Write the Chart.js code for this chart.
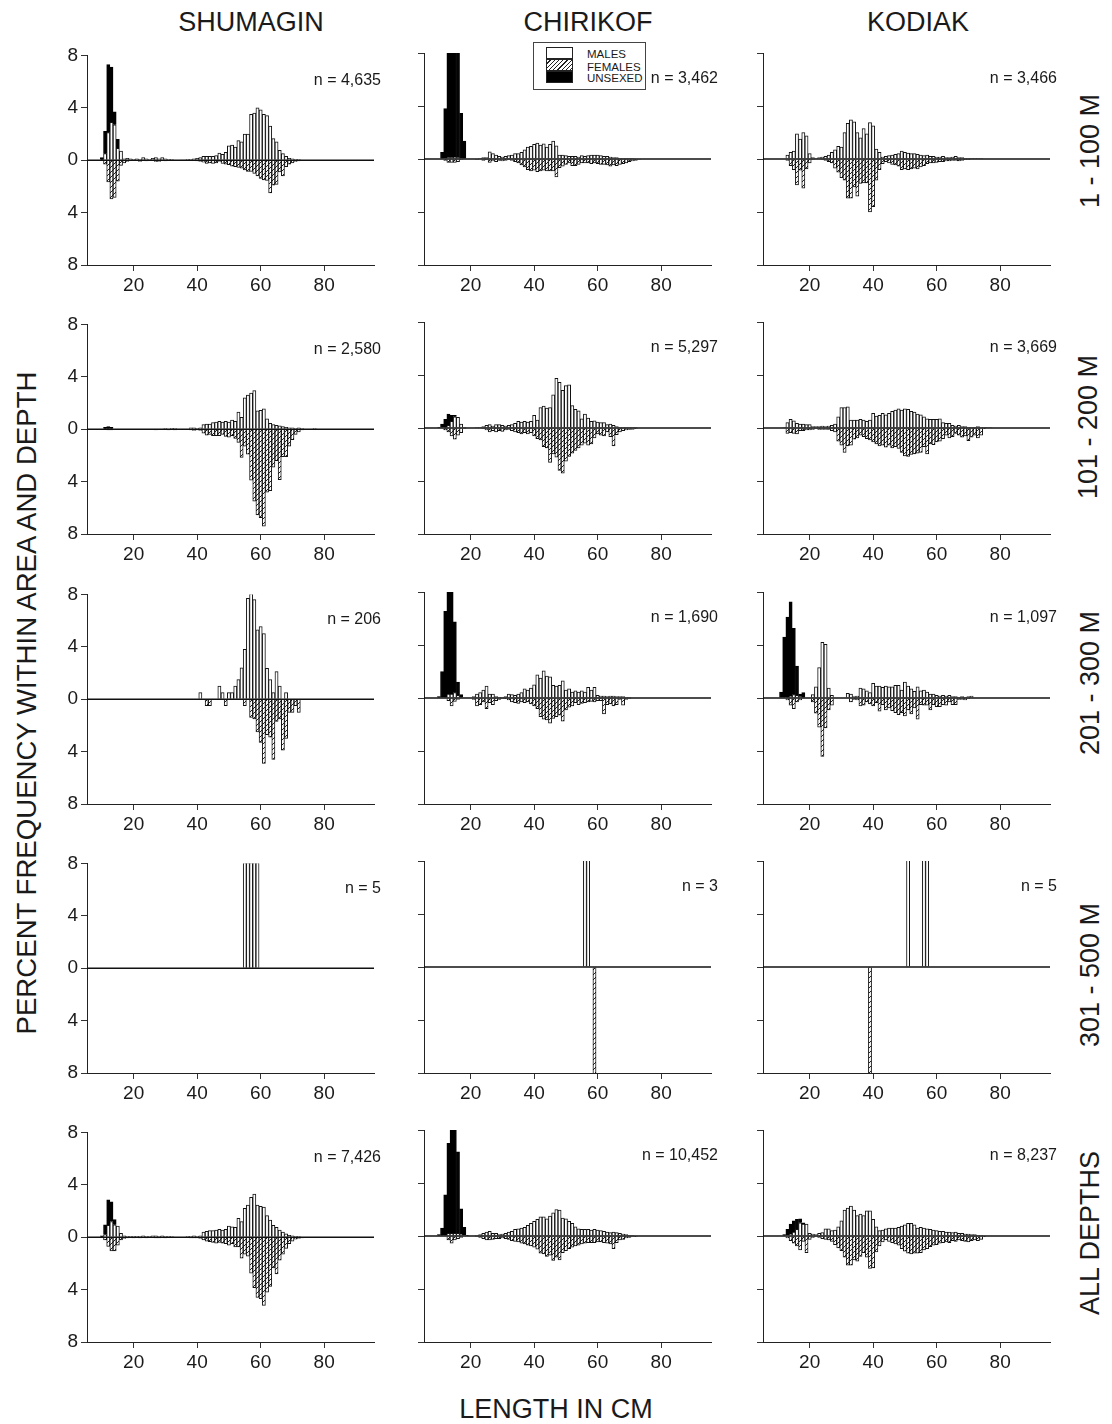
<!DOCTYPE html>
<html>
<head>
<meta charset="utf-8">
<title>Length frequency by area and depth</title>
<script src="https://cdn.jsdelivr.net/npm/chart.js@4.4.1/dist/chart.umd.min.js"></script>
<style>
  body { margin: 0; background: #fff; width: 1112px; height: 1424px; position: relative; overflow: hidden;
         font-family: "Liberation Sans", Arial, sans-serif; color: #1a1a1a; }
  canvas { position: absolute; }
  .big { position: absolute; white-space: nowrap; font-size: 27px; line-height: 27px; }
  .rot { transform: translate(-50%, -50%) rotate(-90deg); }
  .legend { position: absolute; left: 533px; top: 42px; width: 111px; height: 46px; border: 1px solid #444; background: #fff; }
  .legend .sw { position: absolute; left: 12px; width: 25px; height: 10px; border: 1px solid #222; }
  .legend .tx { position: absolute; left: 53px; font-size: 11.5px; line-height: 12px; white-space: nowrap; }
</style>
</head>
<body>

<div class="big" style="left:251px;top:9px;transform:translateX(-50%)">SHUMAGIN</div>
<div class="big" style="left:588px;top:9px;transform:translateX(-50%)">CHIRIKOF</div>
<div class="big" style="left:918px;top:9px;transform:translateX(-50%)">KODIAK</div>

<div class="big rot" style="left:1090px;top:151px">1 - 100 M</div>
<div class="big rot" style="left:1088px;top:427px">101 - 200 M</div>
<div class="big rot" style="left:1090px;top:683px">201 - 300 M</div>
<div class="big rot" style="left:1090px;top:975px">301 - 500 M</div>
<div class="big rot" style="left:1090px;top:1233px">ALL DEPTHS</div>

<div class="big rot" style="left:26px;top:703px;font-size:27.6px">PERCENT FREQUENCY WITHIN AREA AND DEPTH</div>
<div class="big" style="left:556px;top:1396px;transform:translateX(-50%)">LENGTH IN CM</div>

<div class="legend">
  <div class="sw" style="top:4px;background:#fff"></div>
  <div class="sw" style="top:16px;background:repeating-linear-gradient(135deg,#fff 0 2px,#222 2px 3px)"></div>
  <div class="sw" style="top:28px;background:#000"></div>
  <div class="tx" style="top:5px">MALES</div>
  <div class="tx" style="top:18px">FEMALES</div>
  <div class="tx" style="top:29px">UNSEXED</div>
</div>

<script>
// every series starts at this length (cm), one value per cm
const LENGTH_START = 10;
const xTicks = [20, 40, 60, 80];
const yTicks = [-8, -4, 0, 4, 8];

const sampleSizes = [
  ["n = 4,635", "n = 3,462", "n = 3,466"],
  ["n = 2,580", "n = 5,297", "n = 3,669"],
  ["n = 206", "n = 1,690", "n = 1,097"],
  ["n = 5", "n = 3", "n = 5"],
  ["n = 7,426", "n = 10,452", "n = 8,237"],
];

// ---- 1 - 100 M ----
const shumagin1Males = [
  0, 0.5, 2.1, 2.9, 2.7, 0.9, 0.7, 0.1, 0.15, 0.1,
  0.05, 0.1, 0.05, 0.2, 0.1, 0.05, 0.15, 0.2, 0.1, 0.2,
  0.1, 0.05, 0.05, 0, 0, 0.02, 0.02, 0.05, 0.05, 0.1,
  0.15, 0.2, 0.3, 0.3, 0.3, 0.3, 0.35, 0.55, 0.45, 0.6,
  1.1, 1.15, 1.0, 1.5, 1.4, 2.0, 2.0, 3.5, 3.6, 4.0,
  3.85, 3.5, 3.4, 2.6, 1.65, 1.4, 0.75, 0.5, 0.3, 0.15,
  0.1, 0.05, 0.05];
const shumagin1Females = [
  0, 0.3, 1.65, 2.95, 2.85, 1.6, 0.4, 0.2, 0.1, 0,
  0, 0, 0.1, 0, 0.05, 0, 0, 0.1, 0.1, 0,
  0.05, 0, 0, 0, 0, 0, 0, 0, 0, 0.02,
  0.05, 0.1, 0.15, 0.25, 0.2, 0.25, 0.2, 0.1, 0.25, 0.3,
  0.35, 0.45, 0.5, 0.55, 0.6, 0.75, 0.85, 0.85, 1.0, 1.2,
  1.4, 1.5, 1.55, 2.5, 1.9, 1.85, 0.9, 1.2, 0.5, 0.3,
  0.2, 0.1, 0.05];
const shumagin1Unsexed = [0.2, 1.7, 5.2, 4.2, 1.0, 0.7];

const chirikof1Males = [
  0, 0, 0.05, 0.1, 0.1, 0.15, 0.1, 0.05, 0, 0,
  0, 0, 0, 0.05, 0.1, 0.1, 0.55, 0.4, 0.3, 0.2,
  0.15, 0.2, 0.25, 0.3, 0.4, 0.4, 0.5, 0.7, 0.9, 0.95,
  1.1, 1.2, 1.05, 1.15, 0.9, 1.1, 1.35, 1.0, 0.3, 0.3,
  0.25, 0.2, 0.2, 0.2, 0.15, 0.25, 0.2, 0.25, 0.3, 0.3,
  0.3, 0.25, 0.2, 0.2, 0.15, 0.1, 0.1, 0.05, 0.05, 0.05,
  0.05, 0.05];
const chirikof1Females = [
  0, 0, 0.1, 0.25, 0.25, 0.25, 0.2, 0.05, 0, 0,
  0, 0, 0.05, 0, 0.1, 0.05, 0.25, 0.15, 0.2, 0.1,
  0.15, 0.1, 0.05, 0.1, 0.2, 0.3, 0.45, 0.6, 0.8, 0.9,
  0.85, 0.95, 0.9, 0.85, 0.9, 0.9, 0.9, 1.35, 0.65, 0.55,
  0.4, 0.3, 0.5, 0.5, 0.4, 0.3, 0.3, 0.3, 0.35, 0.3,
  0.35, 0.4, 0.4, 0.45, 0.55, 0.45, 0.5, 0.4, 0.35, 0.3,
  0.2, 0.15, 0.1, 0.05];
const chirikof1Unsexed = [0, 0.5, 3.75, 9.5, 12.5, 11, 8.6, 3.4, 1.35];

const kodiak1Males = [
  0, 0, 0, 0.3, 0.5, 0.6, 1.9, 1.5, 2.0, 1.75,
  0.4, 0.1, 0.05, 0.1, 0.15, 0.2, 0.3, 0.5, 0.7, 0.95,
  0.9, 2.0, 2.7, 2.95, 2.8, 2.0, 1.6, 2.3, 1.9, 2.75,
  2.5, 0.75, 0.5, 0.15, 0.2, 0.25, 0.3, 0.35, 0.4, 0.6,
  0.5, 0.45, 0.4, 0.4, 0.35, 0.3, 0.25, 0.3, 0.2, 0.2,
  0.15, 0.15, 0.2, 0.1, 0.1, 0.15, 0.2, 0.1, 0.1, 0.05,
  0.05, 0.05, 0.05, 0.05, 0.05];
const kodiak1Females = [
  0, 0, 0, 0.1, 0.5, 0.8, 1.95, 0.85, 2.2, 0.75,
  0.3, 0.05, 0, 0, 0.05, 0.1, 0.2, 0.3, 0.7, 1.0,
  1.4, 1.6, 2.95, 2.95, 2.1, 2.8, 1.85, 1.8, 1.8, 4.0,
  3.6, 1.6, 0.8, 0.35, 0.2, 0.3, 0.4, 0.45, 0.55, 0.8,
  0.75, 0.8, 0.75, 0.7, 0.75, 0.6, 0.5, 0.35, 0.3, 0.3,
  0.25, 0.2, 0.2, 0.15, 0.15, 0.1, 0.1, 0.15, 0.1, 0.05,
  0.05];
const kodiak1Unsexed = [];

// ---- 101 - 200 M ----
const shumagin2Males = [
  0, 0, 0, 0, 0, 0, 0, 0, 0, 0,
  0, 0, 0, 0, 0, 0, 0, 0, 0, 0,
  0.05, 0, 0.05, 0.05, 0, 0, 0, 0, 0.1, 0.1,
  0.05, 0.1, 0.35, 0.4, 0.4, 0.5, 0.55, 0.6, 0.55, 0.6,
  0.55, 0.7, 0.6, 1.3, 0.9, 2.4, 2.6, 2.75, 2.95, 1.4,
  1.45, 1.55, 0.8, 0.45, 0.35, 0.3, 0.25, 0.2, 0.15, 0.1,
  0.1, 0.05, 0.1, 0.05, 0, 0, 0, 0.05];
const shumagin2Females = [
  0, 0, 0.05, 0.05, 0, 0, 0, 0, 0, 0,
  0, 0, 0, 0, 0, 0, 0, 0.05, 0, 0,
  0, 0.05, 0, 0.05, 0, 0, 0, 0, 0.05, 0.1,
  0.05, 0.1, 0.3, 0.45, 0.4, 0.5, 0.5, 0.5, 0.4, 0.55,
  0.6, 0.5, 0.7, 1.0, 2.15, 1.3, 1.9, 3.9, 5.5, 6.55,
  6.75, 7.4, 4.8, 4.7, 2.9, 2.4, 3.85, 2.1, 2.1, 1.3,
  0.8, 0.4, 0.2, 0.05];
const shumagin2Unsexed = [0, 0.15, 0.2, 0.15];

const chirikof2Males = [
  0, 0, 0, 0.2, 0.5, 0.85, 0.8, 0.3, 0.05, 0,
  0, 0, 0.05, 0.05, 0.1, 0.2, 0.25, 0.15, 0.25, 0.25,
  0.2, 0.15, 0.2, 0.25, 0.35, 0.5, 0.45, 0.5, 0.45, 0.5,
  0.95, 0.6, 1.55, 1.65, 1.5, 1.55, 2.5, 3.75, 3.45, 2.85,
  3.2, 3.25, 1.7, 1.4, 1.3, 0.7, 1.05, 0.75, 0.5, 0.55,
  0.45, 0.4, 0.4, 0.25, 0.3, 0.2, 0.1, 0.05, 0.05, 0.05,
  0.05, 0.05, 0.05];
const chirikof2Females = [
  0, 0, 0.15, 0.3, 0.6, 0.85, 0.55, 0.35, 0.05, 0,
  0, 0, 0, 0, 0.05, 0.15, 0.3, 0.2, 0.3, 0.2,
  0.25, 0.15, 0.1, 0.2, 0.3, 0.35, 0.45, 0.35, 0.45, 0.35,
  0.6, 0.8, 0.9, 1.4, 1.5, 2.6, 1.95, 2.2, 3.2, 3.4,
  2.5, 2.15, 1.9, 1.7, 1.5, 1.3, 1.15, 1.3, 1.2, 0.75,
  0.45, 0.55, 0.6, 0.3, 0.65, 1.35, 0.5, 0.3, 0.2, 0.15,
  0.1, 0.1, 0.05];
const chirikof2Unsexed = [0.05, 0.3, 0.65, 0.85, 0.45, 0.1];

const kodiak2Males = [
  0, 0, 0.05, 0.4, 0.65, 0.55, 0.35, 0.3, 0.3, 0.25,
  0.25, 0.1, 0.1, 0.1, 0.15, 0.1, 0.15, 0.2, 0.3, 0.85,
  1.55, 1.55, 1.6, 0.6, 0.6, 0.6, 0.65, 0.6, 0.5, 0.6,
  1.1, 0.9, 0.95, 1.1, 1.0, 1.1, 1.25, 1.35, 1.45, 1.35,
  1.45, 1.4, 1.25, 1.2, 1.05, 1.0, 0.85, 0.7, 0.65, 0.65,
  0.65, 0.7, 0.4, 0.35, 0.35, 0.2, 0.15, 0.2, 0.1, 0.1,
  0.05, 0.05, 0.05, 0.1, 0.05, 0.05, 0.05, 0.05];
const kodiak2Females = [
  0, 0, 0, 0.4, 0.35, 0.4, 0.45, 0.2, 0.2, 0.15,
  0.15, 0.1, 0.05, 0.1, 0.1, 0.1, 0.1, 0.2, 0.3, 1.0,
  1.3, 1.85, 1.35, 1.3, 0.85, 0.75, 0.55, 0.65, 0.8, 0.9,
  1.05, 1.2, 1.35, 1.3, 1.45, 1.3, 1.5, 1.4, 1.55, 1.85,
  2.1, 2.15, 2.0, 1.95, 1.9, 1.85, 1.4, 1.95, 1.2, 1.25,
  1.05, 1.0, 0.8, 0.55, 0.75, 0.65, 0.4, 0.55, 0.7, 0.6,
  0.95, 0.7, 0.55, 0.75, 0.55, 0.05];
const kodiak2Unsexed = [];

// ---- 201 - 300 M ----
const shumagin3Males = [
  0, 0, 0, 0, 0, 0, 0, 0, 0, 0,
  0, 0, 0, 0, 0, 0, 0, 0, 0, 0,
  0, 0, 0, 0, 0, 0, 0, 0, 0, 0,
  0, 0.5, 0, 0, 0, 0, 0, 1.0, 0.5, 0,
  0.5, 0.5, 1.0, 1.5, 2.4, 3.8, 7.7, 8.25, 7.6, 5.3,
  5.55, 5.0, 2.35, 1.5, 0.5, 2.1, 1.0, 0, 0.5];
const shumagin3Females = [
  0, 0, 0, 0, 0, 0, 0, 0, 0, 0,
  0, 0, 0, 0, 0, 0, 0, 0, 0, 0,
  0, 0, 0, 0, 0, 0, 0, 0, 0, 0,
  0, 0, 0, 0.5, 0.5, 0, 0, 0, 0, 0.5,
  0, 0, 0, 0, 0, 0.5, 0, 1.4, 1.5, 2.5,
  3.3, 4.9, 2.7, 2.9, 4.6, 1.7, 1.5, 3.9, 3.0, 1.0,
  1.0, 0.5, 1.0];
const shumagin3Unsexed = [];

const chirikof3Males = [
  0, 0, 0, 0.3, 0.3, 0.4, 0.2, 0, 0, 0,
  0, 0.1, 0.3, 0.4, 0.6, 0.9, 0.3, 0.3, 0.1, 0.05,
  0.05, 0.1, 0.3, 0.25, 0.2, 0.3, 0.4, 0.7, 0.6, 0.75,
  1.0, 1.75, 1.5, 2.05, 1.65, 1.6, 0.95, 0.9, 0.95, 1.3,
  0.6, 0.7, 0.45, 0.55, 0.45, 0.55, 0.45, 0.8, 0.6, 0.8,
  0.2, 0.15, 0.15, 0.1, 0.15, 0.15, 0.1, 0.1, 0.1, 0.05,
  0.05];
const chirikof3Females = [
  0, 0, 0, 0.2, 0.6, 0.25, 0.1, 0, 0, 0,
  0, 0.1, 0.6, 0.5, 0.3, 0.8, 0.35, 0.5, 0.2, 0.1,
  0.05, 0.05, 0.15, 0.3, 0.35, 0.4, 0.3, 0.35, 0.3, 0.45,
  0.6, 0.8, 1.4, 1.6, 1.65, 1.9, 1.55, 1.4, 1.3, 1.75,
  0.9, 0.7, 0.6, 0.35, 0.5, 0.4, 0.35, 0.3, 0.25, 0.3,
  0.2, 0.2, 1.2, 0.5, 0.45, 0.6, 0.5, 0.1, 0.55, 0.1,
  0.05];
const chirikof3Unsexed = [0.1, 2.0, 6.55, 8.6, 9.2, 5.35, 1.0, 0.25];

const kodiak3Males = [
  0, 0, 0, 0, 0.15, 0.25, 0.2, 0.1, 0, 0,
  0, 0.25, 0.85, 2.3, 4.2, 4.05, 0.75, 0.2, 0, 0,
  0, 0, 0.35, 0.3, 0.1, 0.15, 0.75, 0.7, 0.55, 0.4,
  1.1, 0.9, 0.9, 0.8, 0.9, 0.85, 0.85, 0.95, 0.95, 0.6,
  1.2, 0.9, 0.7, 0.5, 0.85, 0.55, 0.6, 0.45, 0.3, 0.3,
  0.2, 0.15, 0.2, 0.15, 0.2, 0.1, 0.1, 0.05, 0.1, 0.05,
  0.1, 0.15];
const kodiak3Females = [
  0, 0, 0, 0.15, 0.55, 0.8, 0.3, 0.15, 0, 0,
  0, 0.3, 1.15, 2.2, 4.4, 2.25, 0.9, 0.55, 0, 0,
  0, 0, 0, 0.3, 0.1, 0.15, 0.6, 0.55, 0.3, 0.45,
  0.6, 0.35, 1.0, 0.5, 0.9, 0.75, 0.95, 1.1, 1.25, 1.1,
  1.35, 0.9, 1.2, 0.75, 1.6, 0.5, 0.55, 0.55, 0.9, 0.5,
  0.65, 0.65, 0.5, 0.55, 0.3, 0.5, 0.5, 0.1, 0.1, 0.15,
  0.05];
const kodiak3Unsexed = [0, 0.45, 4.6, 6.1, 7.1, 5.0, 2.2, 0.2, 0.4];

// ---- 301 - 500 M ----
const shumagin4Males = [
  0, 0, 0, 0, 0, 0, 0, 0, 0, 0,
  0, 0, 0, 0, 0, 0, 0, 0, 0, 0,
  0, 0, 0, 0, 0, 0, 0, 0, 0, 0,
  0, 0, 0, 0, 0, 0, 0, 0, 0, 0,
  0, 0, 0, 0, 0, 20, 20, 20, 20, 20];
const shumagin4Females = [];
const shumagin4Unsexed = [];

const chirikof4Males = [
  0, 0, 0, 0, 0, 0, 0, 0, 0, 0,
  0, 0, 0, 0, 0, 0, 0, 0, 0, 0,
  0, 0, 0, 0, 0, 0, 0, 0, 0, 0,
  0, 0, 0, 0, 0, 0, 0, 0, 0, 0,
  0, 0, 0, 0, 0, 0, 33.3, 33.3];
const chirikof4Females = [
  0, 0, 0, 0, 0, 0, 0, 0, 0, 0,
  0, 0, 0, 0, 0, 0, 0, 0, 0, 0,
  0, 0, 0, 0, 0, 0, 0, 0, 0, 0,
  0, 0, 0, 0, 0, 0, 0, 0, 0, 0,
  0, 0, 0, 0, 0, 0, 0, 0, 0, 33.3];
const chirikof4Unsexed = [];

const kodiak4Males = [
  0, 0, 0, 0, 0, 0, 0, 0, 0, 0,
  0, 0, 0, 0, 0, 0, 0, 0, 0, 0,
  0, 0, 0, 0, 0, 0, 0, 0, 0, 0,
  0, 0, 0, 0, 0, 0, 0, 0, 0, 0,
  0, 20, 0, 0, 0, 0, 40, 20];
const kodiak4Females = [
  0, 0, 0, 0, 0, 0, 0, 0, 0, 0,
  0, 0, 0, 0, 0, 0, 0, 0, 0, 0,
  0, 0, 0, 0, 0, 0, 0, 0, 0, 20];
const kodiak4Unsexed = [];

// ---- ALL DEPTHS ----
const shumaginAllMales = [
  0, 0.2, 0.9, 1.2, 0.95, 0.85, 0.3, 0.1, 0.05, 0.05,
  0.05, 0.05, 0.05, 0.1, 0.05, 0.05, 0.1, 0.1, 0.05, 0.1,
  0.05, 0.05, 0.05, 0, 0, 0, 0, 0.05, 0.05, 0.1,
  0.05, 0.1, 0.4, 0.45, 0.5, 0.5, 0.55, 0.6, 0.55, 0.6,
  0.85, 0.8, 0.75, 1.45, 1.2, 2.2, 2.45, 3.05, 3.3, 2.45,
  2.35, 2.3, 1.65, 1.3, 0.9, 0.75, 0.55, 0.4, 0.25, 0.15,
  0.1, 0.05, 0.05];
const shumaginAllFemales = [
  0, 0.2, 0.7, 1.05, 1.05, 0.6, 0.2, 0.1, 0.05, 0,
  0.05, 0, 0.05, 0, 0.05, 0, 0, 0.05, 0.05, 0,
  0.05, 0, 0, 0, 0, 0, 0, 0, 0.05, 0.05,
  0.05, 0.1, 0.2, 0.3, 0.35, 0.4, 0.45, 0.4, 0.45, 0.5,
  0.6, 0.5, 0.75, 0.75, 1.6, 1.3, 1.45, 2.75, 3.85, 4.6,
  4.7, 5.2, 4.2, 3.75, 2.35, 2.8, 1.75, 1.3, 0.85, 0.5,
  0.3, 0.15, 0.1, 0.05];
const shumaginAllUnsexed = [0.1, 0.75, 1.95, 1.5, 0.4];

const chirikofAllMales = [
  0, 0, 0, 0.2, 0.2, 0.2, 0.2, 0.15, 0.05, 0,
  0, 0, 0.05, 0.1, 0.2, 0.3, 0.35, 0.2, 0.2, 0.1,
  0.15, 0.2, 0.3, 0.35, 0.5, 0.55, 0.6, 0.65, 0.8, 0.95,
  1.1, 1.25, 1.45, 1.45, 1.3, 1.5, 1.75, 2.0, 1.95, 1.35,
  1.3, 1.1, 0.95, 0.7, 0.55, 0.5, 0.5, 0.5, 0.45, 0.5,
  0.45, 0.4, 0.35, 0.3, 0.25, 0.3, 0.25, 0.2, 0.15, 0.1,
  0.05, 0.05];
const chirikofAllFemales = [
  0, 0, 0, 0.3, 0.55, 0.3, 0.2, 0.1, 0, 0,
  0, 0, 0.05, 0.1, 0.2, 0.3, 0.3, 0.25, 0.2, 0.2,
  0.15, 0.2, 0.25, 0.35, 0.4, 0.45, 0.55, 0.6, 0.7, 0.75,
  0.85, 1.0, 1.3, 1.35, 1.55, 1.45, 1.85, 1.6, 1.8, 1.25,
  1.1, 0.95, 0.85, 0.75, 0.7, 0.6, 0.55, 0.5, 0.5, 0.5,
  0.45, 0.45, 0.5, 0.55, 0.6, 0.95, 0.5, 0.3, 0.25, 0.15,
  0.1, 0.05, 0.05];
const chirikofAllUnsexed = [0.1, 0.6, 3.1, 6.8, 9.5, 9.0, 6.15, 1.9, 0.6, 0.05];

const kodiakAllMales = [
  0, 0, 0, 0.05, 0.15, 0.3, 0.5, 1.0, 0.9, 0.9,
  0.2, 0.15, 0.1, 0.2, 0.25, 0.55, 0.55, 0.4, 0.45, 0.7,
  1.15, 1.95, 2.1, 2.25, 1.95, 1.55, 1.65, 1.55, 1.9, 1.9,
  1.25, 0.7, 0.4, 0.45, 0.55, 0.6, 0.6, 0.6, 0.65, 0.75,
  0.85, 0.95, 0.95, 0.85, 0.6, 0.65, 0.6, 0.55, 0.5, 0.45,
  0.4, 0.35, 0.35, 0.3, 0.3, 0.25, 0.3, 0.2, 0.2, 0.15,
  0.15, 0.1, 0.1, 0.05, 0.05];
const kodiakAllFemales = [
  0, 0, 0, 0.15, 0.35, 0.55, 0.75, 1.05, 0.4, 1.25,
  0.25, 0.1, 0.05, 0.1, 0.2, 0.25, 0.3, 0.4, 0.65, 0.9,
  1.1, 1.6, 2.2, 2.2, 1.8, 1.9, 1.55, 1.25, 1.6, 2.45,
  2.4, 1.2, 0.75, 0.45, 0.3, 0.4, 0.5, 0.6, 0.7, 0.95,
  1.15, 1.3, 1.35, 1.3, 1.3, 1.25, 1.05, 0.95, 0.8, 0.7,
  0.65, 0.55, 0.5, 0.45, 0.5, 0.35, 0.4, 0.3, 0.35, 0.4,
  0.45, 0.35, 0.3, 0.35, 0.25, 0.05];
const kodiakAllUnsexed = [0, 0, 0.1, 0.45, 0.75, 0.85, 0.75, 0.3, 0.1];

// rows = depth zones, columns = areas
const panels = [
  [[shumagin1Males, shumagin1Females, shumagin1Unsexed], [chirikof1Males, chirikof1Females, chirikof1Unsexed], [kodiak1Males, kodiak1Females, kodiak1Unsexed]],
  [[shumagin2Males, shumagin2Females, shumagin2Unsexed], [chirikof2Males, chirikof2Females, chirikof2Unsexed], [kodiak2Males, kodiak2Females, kodiak2Unsexed]],
  [[shumagin3Males, shumagin3Females, shumagin3Unsexed], [chirikof3Males, chirikof3Females, chirikof3Unsexed], [kodiak3Males, kodiak3Females, kodiak3Unsexed]],
  [[shumagin4Males, shumagin4Females, shumagin4Unsexed], [chirikof4Males, chirikof4Females, chirikof4Unsexed], [kodiak4Males, kodiak4Females, kodiak4Unsexed]],
  [[shumaginAllMales, shumaginAllFemales, shumaginAllUnsexed], [chirikofAllMales, chirikofAllFemales, chirikofAllUnsexed], [kodiakAllMales, kodiakAllFemales, kodiakAllUnsexed]],
];

// layout of the plot areas (px)
const colLeft = [87, 424, 763];
const rowTop = [53, 322, 592, 861, 1130];
const plotW = 287, plotH = 212;
const padL = 50, padT = 12, padR = 12, padB = 40;

Chart.defaults.font.family = '"Liberation Sans", Arial, sans-serif';
Chart.defaults.color = "#1a1a1a";

function toPoints(values, sign) {
  return values.map((v, i) => ({ x: LENGTH_START + i, y: v ? sign * v : null }));
}

function hatch(ctx) {
  const c = document.createElement("canvas");
  c.width = 5; c.height = 5;
  const g = c.getContext("2d");
  g.fillStyle = "#fff";
  g.fillRect(0, 0, 5, 5);
  g.strokeStyle = "#222";
  g.lineWidth = 1;
  g.beginPath();
  g.moveTo(0, 5); g.lineTo(5, 0);
  g.moveTo(-1, 1); g.lineTo(1, -1);
  g.moveTo(4, 6); g.lineTo(6, 4);
  g.stroke();
  return ctx.createPattern(c, "repeat");
}

const zeroLine = {
  id: "zeroLine",
  afterDatasetsDraw(chart) {
    const { ctx, chartArea: a, scales } = chart;
    const y0 = scales.y.getPixelForValue(0);
    ctx.save();
    ctx.strokeStyle = "#111";
    ctx.lineWidth = 1.6;
    ctx.beginPath();
    ctx.moveTo(a.left, y0);
    ctx.lineTo(a.right, y0);
    ctx.stroke();
    ctx.restore();
  },
};

const sampleLabel = {
  id: "sampleLabel",
  afterDraw(chart, args, opts) {
    const { ctx, chartArea: a } = chart;
    ctx.save();
    ctx.font = '16px "Liberation Sans", Arial, sans-serif';
    ctx.fillStyle = "#1a1a1a";
    ctx.textAlign = "right";
    ctx.textBaseline = "alphabetic";
    ctx.fillText(opts.text, a.right + 7, a.top + 30);
    ctx.restore();
  },
};

panels.forEach((row, r) => {
  row.forEach(([males, females, unsexed], c) => {
    const canvas = document.createElement("canvas");
    canvas.width = padL + plotW + padR;
    canvas.height = padT + plotH + padB;
    canvas.style.left = (colLeft[c] - padL) + "px";
    canvas.style.top = (rowTop[r] - padT) + "px";
    document.body.appendChild(canvas);
    const ctx = canvas.getContext("2d");

    new Chart(canvas, {
      type: "bar",
      data: {
        datasets: [
          { label: "MALES", data: toPoints(males, 1), backgroundColor: "#fff", borderColor: "#111", borderWidth: 1 },
          { label: "UNSEXED", data: toPoints(unsexed, 1), backgroundColor: "#000", borderColor: "#000", borderWidth: 1 },
          { label: "FEMALES", data: toPoints(females, -1), backgroundColor: hatch(ctx), borderColor: "#111", borderWidth: 1 },
        ],
      },
      options: {
        responsive: false,
        animation: false,
        events: [],
        datasets: { bar: { categoryPercentage: 1, barPercentage: 1 } },
        layout: { padding: { left: 0, top: padT, right: padR, bottom: 0 } },
        scales: {
          x: {
            type: "linear",
            min: 5.3,
            max: 95.7,
            offset: false,
            stacked: true,
            afterBuildTicks: (s) => { s.ticks = xTicks.map((v) => ({ value: v })); },
            afterFit: (s) => { s.height = padB; },
            grid: { offset: false, drawOnChartArea: false, drawTicks: true, tickLength: 6, tickColor: "#333" },
            border: { display: true, color: "#222", width: 1 },
            ticks: { font: { size: 19 }, padding: 3, maxRotation: 0, autoSkip: false },
          },
          y: {
            min: -8,
            max: 8,
            stacked: true,
            afterBuildTicks: (s) => { s.ticks = yTicks.map((v) => ({ value: v })); },
            afterFit: (s) => { s.width = padL; },
            grid: { drawOnChartArea: false, drawTicks: true, tickLength: 6, tickColor: "#333" },
            border: { display: true, color: "#222", width: 1 },
            ticks: { display: c === 0, font: { size: 19 }, padding: 3, callback: (v) => Math.abs(v) },
          },
        },
        plugins: {
          legend: { display: false },
          tooltip: { enabled: false },
          sampleLabel: { text: sampleSizes[r][c] },
        },
      },
      plugins: [zeroLine, sampleLabel],
    });
  });
});
</script>
</body>
</html>
